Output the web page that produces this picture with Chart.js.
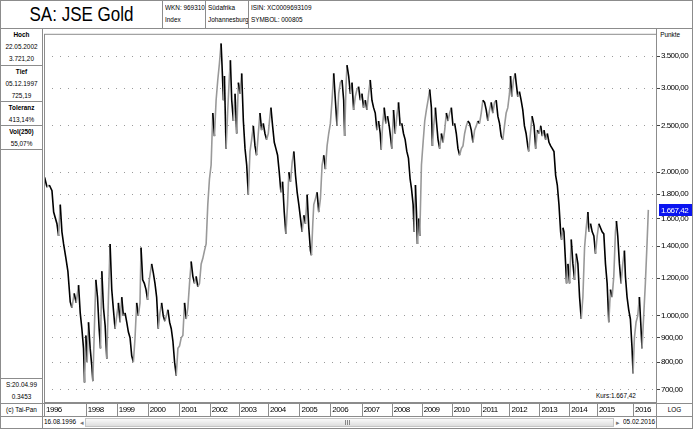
<!DOCTYPE html>
<html>
<head>
<meta charset="utf-8">
<script src="https://cdn.jsdelivr.net/npm/chart.js@4/dist/chart.umd.min.js"></script>
<style>
  body { margin: 0; background: #fff; }
  #rahmen { position: relative; width: 693px; height: 429px; overflow: hidden; background: #fff;
    font-family: 'Liberation Sans', Arial, sans-serif; font-size: 8px; color: #000; }
  .box { position: absolute; box-sizing: border-box; border: 1px solid #8c8c8c; }
  .zeile { line-height: 12px; white-space: nowrap; transform: scaleX(.8); transform-origin: 0 50%; }
  .mitte { text-align: center; }
  .mitte .zeile { transform-origin: 50% 50%; }
  .fett { font-weight: bold; }
  #plot { position: absolute; left: 42px; top: 28px; width: 651px; height: 388px; }
</style>
</head>
<body>
<div id="rahmen">
  <!-- kopfzeile -->
  <div class="box mitte" style="left:0;top:0;width:163px;height:29px">
    <div style="font-size:20px;line-height:27px;color:#000;transform:scaleX(.85)">SA: JSE Gold</div></div>
  <div class="box" style="left:162px;top:0;width:44px;height:29px;padding:0 0 0 2px">
    <div class="zeile" style="margin-top:1px">WKN: 969310</div><div class="zeile">Index</div></div>
  <div class="box" style="left:205px;top:0;width:44px;height:29px;padding:0 0 0 2px">
    <div class="zeile" style="margin-top:1px">Südafrika</div><div class="zeile">Johannesburg</div></div>
  <div class="box" style="left:248px;top:0;width:445px;height:29px;padding:0 0 0 2px">
    <div class="zeile" style="margin-top:1px">ISIN: XC0009693109</div><div class="zeile">SYMBOL: 000805</div></div>

  <!-- linke leiste -->
  <div class="box mitte" style="left:0;top:28px;width:43px;height:38px">
    <div class="zeile fett">Hoch</div><div class="zeile">22.05.2002</div><div class="zeile">3.721,20</div></div>
  <div class="box mitte" style="left:0;top:65px;width:43px;height:37px">
    <div class="zeile fett">Tief</div><div class="zeile">05.12.1997</div><div class="zeile">725,19</div></div>
  <div class="box mitte" style="left:0;top:101px;width:43px;height:25px">
    <div class="zeile fett">Toleranz</div><div class="zeile">413,14%</div></div>
  <div class="box mitte" style="left:0;top:125px;width:43px;height:25px">
    <div class="zeile fett">Vol(250)</div><div class="zeile">55,07%</div></div>
  <div class="box" style="left:0;top:149px;width:43px;height:230px"></div>
  <div class="box mitte" style="left:0;top:378px;width:43px;height:26px">
    <div class="zeile">S:20.04.99</div><div class="zeile">0.3453</div></div>
  <div class="box mitte" style="left:0;top:403px;width:43px;height:14px">
    <div class="zeile">(c) Tai-Pan</div></div>
  <div class="box" style="left:0;top:416px;width:43px;height:13px"></div>

  <!-- rechte spalte -->
  <div class="box" style="left:656px;top:28px;width:37px;height:376px">
    <div class="zeile" style="padding-left:4px">Punkte</div></div>
  <div class="box mitte" style="left:656px;top:403px;width:37px;height:14px">
    <div class="zeile">LOG</div></div>
  <div class="box" style="left:656px;top:416px;width:37px;height:13px"></div>

  <!-- untere zeile mit scrollbalken -->
  <div class="box" style="left:42px;top:403px;width:615px;height:14px"></div>
  <div class="box" style="left:42px;top:416px;width:615px;height:13px">
    <div class="zeile" style="position:absolute;left:1px;top:-1px">16.08.1996</div>
    <div style="position:absolute;left:37px;top:0;font-size:7px;line-height:11px;color:#777">&#9666;</div>
    <div style="position:absolute;left:42px;top:1px;width:529px;height:9px;box-sizing:border-box;border:1px solid #c4c4c4;background:linear-gradient(#fafafa,#dedede)">
      <div style="position:absolute;left:259px;top:1px;width:5px;height:5px;background:repeating-linear-gradient(90deg,#888 0 1px,transparent 1px 2px)"></div>
    </div>
    <div style="position:absolute;left:573px;top:0;font-size:7px;line-height:11px;color:#777">&#9656;</div>
    <div class="zeile" style="position:absolute;right:1px;top:-1px;transform-origin:100% 50%">05.02.2016</div>
  </div>
  <div class="zeile" style="position:absolute;left:596px;top:390px">Kurs:1.667,42</div>

  <div id="plot"><canvas id="kurs"></canvas></div>
</div>

<script>
// position auf der zeitachse und kurs in punkten
var pos = [
  1996.662,1996.738,1996.813,1996.900,1996.954,1997.061,1997.115,1997.169,1997.223,1997.277,
  1997.353,1997.417,1997.493,1997.547,1997.622,1997.687,1997.763,1997.817,1997.871,1997.924,
  1997.957,1998.000,1998.043,1998.086,1998.140,1998.194,1998.227,1998.270,1998.324,1998.378,
  1998.431,1998.475,1998.518,1998.572,1998.626,1998.680,1998.734,1998.787,1998.841,1998.895,
  1998.949,1999.003,1999.057,1999.111,1999.165,1999.219,1999.273,1999.327,1999.381,1999.435,
  1999.489,1999.543,1999.597,1999.650,1999.704,1999.758,1999.791,1999.845,1999.899,1999.953,
  2000.006,2000.060,2000.136,2000.190,2000.244,2000.298,2000.352,2000.406,2000.460,2000.513,
  2000.567,
  2000.665,2000.719,2000.773,2000.827,2000.881,2000.935,2000.989,2001.042,2001.096,2001.150,
  2001.204,2001.258,2001.312,2001.366,2001.420,2001.474,2001.528,2001.582,2001.636,2001.690,
  2001.744,2001.798,2001.852,2001.905,2001.959,2002.013,2002.067,2002.121,2002.175,2002.229,
  2002.283,2002.337,2002.391,2002.423,2002.466,2002.499,2002.553,2002.607,2002.661,2002.693,
  2002.736,2002.790,2002.844,2002.898,2002.952,2003.006,2003.060,2003.114,2003.168,2003.222,
  2003.275,2003.329,2003.383,2003.437,2003.491,2003.545,2003.599,2003.653,2003.707,2003.761,
  2003.815,2003.869,2003.923,2003.977,2004.009,2004.063,2004.117,2004.171,2004.225,2004.279,
  2004.333,2004.387,2004.441,2004.494,2004.548,
  2004.591,2004.645,2004.699,2004.753,2004.807,2004.861,2004.915,2004.969,2005.022,2005.076,
  2005.130,2005.184,2005.238,2005.292,2005.325,2005.368,2005.400,2005.454,2005.508,2005.562,
  2005.616,2005.670,2005.724,2005.778,2005.832,2005.885,2005.939,2005.993,2006.047,2006.101,
  2006.155,2006.209,2006.263,2006.317,2006.371,2006.403,2006.446,2006.479,2006.533,2006.587,
  2006.641,2006.695,2006.748,2006.802,2006.856,2006.910,2006.964,2007.018,2007.072,2007.126,
  2007.180,2007.234,2007.288,2007.342,2007.396,2007.450,2007.504,2007.558,2007.590,2007.633,
  2007.687,2007.741,2007.795,2007.849,2007.903,2007.935,2007.989,2008.043,2008.097,2008.151,
  2008.205,2008.259,2008.313,2008.367,2008.421,2008.474,2008.528,
  2008.572,2008.626,2008.658,2008.701,2008.734,2008.766,2008.809,2008.842,2008.896,2008.950,
  2009.003,2009.057,2009.111,2009.165,2009.219,2009.252,2009.295,2009.349,2009.381,2009.435,
  2009.489,2009.543,2009.597,2009.651,2009.705,2009.759,2009.813,2009.866,2009.920,2009.974,
  2010.028,2010.082,2010.136,2010.190,2010.244,2010.298,2010.352,2010.406,2010.460,2010.514,
  2010.568,2010.622,2010.676,2010.729,2010.783,2010.837,2010.891,2010.945,2010.999,2011.053,
  2011.107,2011.161,2011.215,2011.269,2011.323,2011.377,2011.431,2011.485,2011.539,2011.592,
  2011.646,2011.700,2011.754,2011.787,2011.830,2011.884,2011.938,2011.970,2012.024,2012.078,
  2012.132,2012.186,2012.240,2012.294,2012.348,2012.380,2012.434,2012.488,2012.553,
  2012.606,2012.660,2012.714,2012.768,2012.822,2012.876,2012.930,2012.983,2013.037,2013.091,
  2013.145,2013.199,2013.253,2013.307,2013.361,2013.415,2013.447,2013.490,2013.523,2013.577,
  2013.609,2013.652,2013.706,2013.760,2013.814,2013.868,2013.922,2013.976,2014.030,2014.084,
  2014.138,2014.192,2014.246,2014.300,2014.332,2014.386,2014.440,2014.494,2014.548,2014.602,
  2014.656,2014.709,2014.763,2014.817,2014.871,2014.925,2014.979,2015.033,2015.087,2015.141,
  2015.195,2015.227,2015.270,2015.324,2015.378,2015.432,2015.486,2015.519,2015.572,2015.626,
  2015.680,2015.734,2015.767,2015.810,2015.864,2015.918,2015.972,2016.015,2016.058,2016.112,
  2016.166,2016.220,2016.263
];
var kurs = [
  1950,1860,1880,1830,1650,1560,1470,1710,1500,1415,
  1320,1240,1070,1040,1115,1065,1160,1015,940,855,
  725.19,910,800,970,855,785,730,910,1190,1095,
  940,855,1240,1040,955,813,1095,1415,1135,1030,
  940,1000,1065,970,1095,1000,1015,970,925,900,
  825,800,900,1065,1000,1065,1390,1190,1170,1135,
  1080,1190,1285,1230,1170,1095,940,1015,1065,1000,
  975,
  1030,970,940,885,800,750,855,865,900,910,
  1065,985,1040,1170,1300,1210,1170,1210,1150,1170,
  1285,1320,1370,1415,1710,1935,2070,2660,2380,2830,
  3120,3380,3721.2,3330,2830,3180,2240,2700,3180,3430,
  2830,2560,2920,2410,3080,2920,3220,2560,2240,2070,
  1795,2210,2340,2500,2270,2170,2410,2660,2450,2530,
  2410,2340,2410,2620,2730,2500,2310,2240,2170,2000,
  1815,1910,1650,1485,1710,
  2000,1910,2100,2210,1970,1815,1710,1600,1500,1625,
  1560,1795,1530,1370,1340,1560,1710,1760,1815,1650,
  1760,2070,2170,2030,2270,2410,2530,2830,3220,2830,
  2500,2920,3080,3120,2830,2380,3020,3350,3180,2920,
  3080,2700,2880,2980,3020,2830,2920,2730,2830,2700,
  2920,3120,2830,2730,2660,2450,2560,2410,2230,2500,
  2730,2530,2620,2500,2340,2240,2700,2410,2620,2800,
  2500,2530,2410,2340,2210,2140,1935,
  1850,1710,1500,1880,1650,1415,1600,1470,2070,2310,
  2560,2700,2830,2980,2730,2270,2500,2730,2560,2340,
  2240,2410,2310,2450,2660,2560,2660,2730,2500,2530,
  2410,2240,2170,2240,2270,2410,2500,2560,2530,2450,
  2310,2450,2500,2560,2530,2660,2830,2800,2700,2560,
  2700,2800,2660,2800,2830,2620,2530,2380,2340,2500,
  2660,2730,2920,3180,2880,3120,3220,3080,2880,2950,
  2830,2700,2500,2410,2270,2210,2410,2620,2500,
  2240,2450,2410,2500,2380,2450,2340,2410,2310,2270,
  2240,2210,1970,1880,1710,1500,1445,1530,1500,1285,
  1170,1285,1170,1445,1285,1190,1350,1285,1095,985,
  1095,1390,1530,1650,1500,1560,1500,1470,1350,1470,
  1560,1530,1500,1485,1285,1170,970,1135,1095,1210,
  1500,1580,1470,1285,1170,1285,1370,1210,1095,1030,
  985,855,758,900,970,1000,1095,970,855,1000,
  1170,1415,1667.42
];

var yTicks = [700, 800, 900, 1000, 1200, 1400, 1600, 1800, 2000, 2500, 3000, 3500];
var jahrLabels = ['1996','1998','1999','2000','2001','2002','2003','2004','2005','2006',
  '2007','2008','2009','2010','2011','2012','2013','2014','2015','2016'];
var jahrPos = [1996.641, 1998.000, 1999.003, 2000.006, 2001.032, 2002.023, 2002.961, 2003.913, 2004.935, 2005.939,
  2006.955, 2007.935, 2008.906, 2009.877, 2010.816, 2011.754, 2012.725, 2013.696, 2014.592, 2015.767];

function deZahl(v) {
  var s = v.toFixed(2).split('.');
  s[0] = s[0].replace(/\B(?=(\d{3})+(?!\d))/g, '.');
  return s[0] + ',' + s[1];
}

var punkte = [];
for (var i in kurs) {
  punkte.push({x: pos[i], y: kurs[i]});
}

var schrift = "'Liberation Sans', Arial, sans-serif";
Chart.defaults.font.family = schrift;
Chart.defaults.font.size = 8;
Chart.defaults.color = '#000';

// schmalere schrift im canvas, rahmen, trennstriche in der jahresleiste und letzter kurs
var deko = {
  id: 'deko',
  beforeDraw: function(chart) {
    chart.ctx.letterSpacing = '-0.5px';
  },
  afterDraw: function(chart) {
    var c = chart.ctx, a = chart.chartArea;
    var xs = chart.scales.x, ys = chart.scales.y;
    c.save();
    c.strokeStyle = '#8c8c8c';
    c.lineWidth = 1;
    xs.ticks.forEach(function(t) {
      var px = Math.round(xs.getPixelForValue(t.value)) + 0.5;
      c.beginPath();
      c.moveTo(px, xs.top);
      c.lineTo(px, xs.bottom);
      c.stroke();
    });
    c.strokeRect(a.left + 0.5, a.top + 0.5, a.right - a.left - 1, a.bottom - a.top - 1);

    var letzter = kurs[kurs.length - 1];
    var py = Math.round(ys.getPixelForValue(letzter));
    c.fillStyle = '#0a14f0';
    c.fillRect(a.right + 2, py - 6, 33, 12);
    c.fillStyle = '#fff';
    c.font = '8px ' + schrift;
    c.textBaseline = 'middle';
    c.fillText(deZahl(letzter), a.right + 4, py + 0.5);
    c.restore();
  }
};

var ctx = document.getElementById('kurs');
var kursChart = new Chart(ctx, {
  type: 'line',
  data: {
    datasets: [{
      label: 'JSE Gold',
      data: punkte,
      borderWidth: 1.6,
      borderColor: '#000',
      pointRadius: 0,
      tension: 0,
      segment: {
        borderColor: function(s) { return s.p1.parsed.y >= s.p0.parsed.y ? '#999' : '#000'; }
      }
    }]
  },
  options: {
    animation: false,
    responsive: true,
    maintainAspectRatio: false,
    devicePixelRatio: 1,
    layout: { padding: 0 },
    plugins: { legend: { display: false }, tooltip: { enabled: false } },
    scales: {
      x: {
        type: 'linear',
        min: 1996.641,
        max: 2016.544,
        afterBuildTicks: function(s) { s.ticks = jahrPos.map(function(v) { return {value: v}; }); },
        afterFit: function(s) { s.height = 13; },
        grid: { display: false, drawTicks: false },
        border: { display: false },
        ticks: {
          autoSkip: false, maxRotation: 0, align: 'start', labelOffset: 2, padding: 2,
          callback: function(v, i) { return jahrLabels[i]; }
        }
      },
      y: {
        type: 'logarithmic',
        position: 'right',
        min: 657,
        max: 3898,
        afterBuildTicks: function(s) { s.ticks = yTicks.map(function(v) { return {value: v}; }); },
        afterFit: function(s) { s.width = 36; },
        grid: { color: '#9a9a9a', lineWidth: 1, tickLength: 3, tickColor: '#444', tickBorderDash: [] },
        border: { display: false, dash: [1, 7] },
        ticks: {
          padding: 1,
          callback: function(v) { return deZahl(v); }
        }
      }
    }
  },
  plugins: [deko]
});
</script>
</body>
</html>
